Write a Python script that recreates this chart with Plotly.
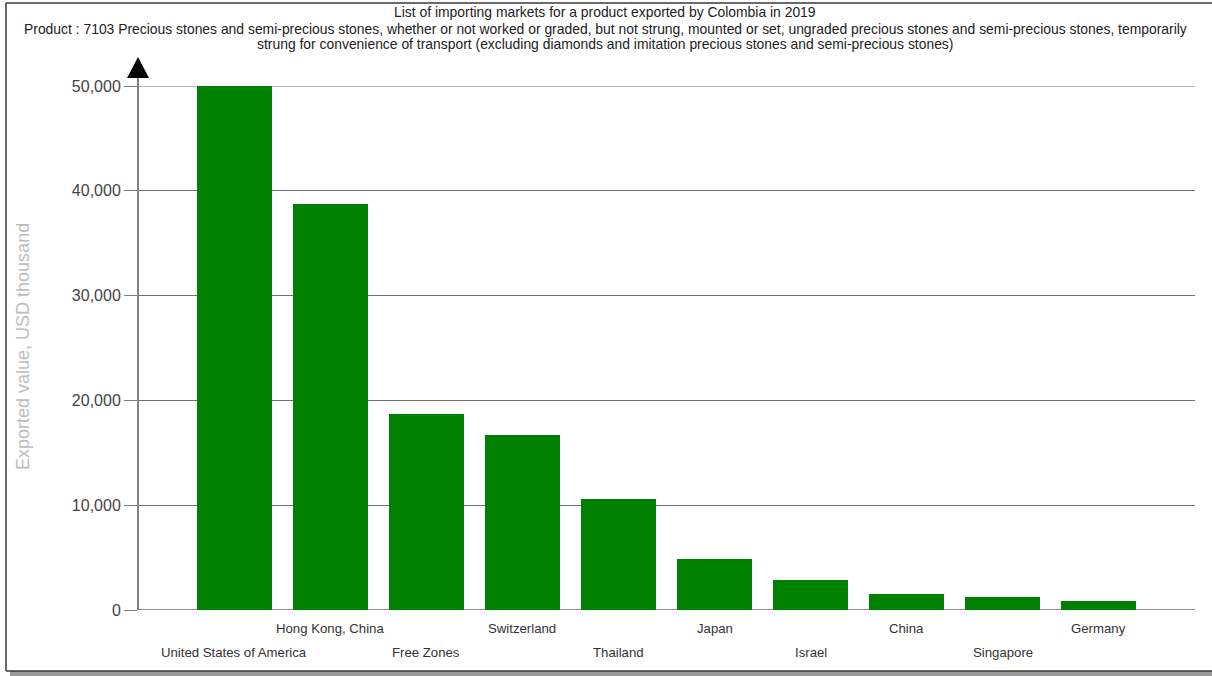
import plotly.graph_objects as go

# Importing markets and exported value (USD thousand), 2019
markets = [
    "United States of America", "Hong Kong, China", "Free Zones", "Switzerland",
    "Thailand", "Japan", "Israel", "China", "Singapore", "Germany",
]
exported_value = [50000, 38700, 18700, 16700, 10600, 4850, 2850, 1520, 1230, 860]

y_ticks = [0, 10000, 20000, 30000, 40000, 50000]
y_tick_labels = ["0", "10,000", "20,000", "30,000", "40,000", "50,000"]

title_lines = [
    "List of importing markets for a product exported by Colombia in 2019",
    "Product : 7103 Precious stones and semi-precious stones, whether or not worked or graded, "
    "but not strung, mounted or set, ungraded precious stones and semi-precious stones, temporarily",
    "strung for convenience of transport (excluding diamonds and imitation precious stones and semi-precious stones)",
]
y_title = "Exported value, USD thousand"

W, H = 1212, 676
ML, MR, MT, MB = 138, 17, 86, 66
PW, PH = W - ML - MR, H - MT - MB


def px_x(px):
    return (px - ML) / PW


def px_y(py):
    return (H - MB - py) / PH


FONT = "Liberation Sans, Arial, sans-serif"
GRID = "#6e6e6e"

fig = go.Figure(
    go.Bar(
        x=list(range(len(markets))),
        y=exported_value,
        width=0.78,
        marker=dict(color="#008000", line=dict(width=0)),
        hoverinfo="skip",
    )
)

annotations = []
# category labels, staggered on two rows
for i, name in enumerate(markets):
    annotations.append(dict(
        x=i, y=0, xref="x", yref="paper", yanchor="middle", xanchor="center",
        yshift=-18 if i % 2 else -42, text=name, showarrow=False,
        font=dict(family=FONT, size=13.2, color="#333333"),
    ))

# heading lines, centred on the page
for line, py in zip(title_lines, [12, 29, 44]):
    annotations.append(dict(
        x=px_x(W / 2 - 1), xref="paper", y=px_y(py), yref="paper",
        xanchor="center", yanchor="middle",
        text=line, showarrow=False, font=dict(family=FONT, size=13.9, color="#222222"),
    ))

annotations.append(dict(
    x=px_x(23), y=px_y(347), xref="paper", yref="paper", xanchor="center", yanchor="middle",
    text=y_title, textangle=-90, showarrow=False,
    font=dict(family=FONT, size=18, color="#bdbdbd"),
))

shapes = [
    # gridlines at the ends of the value range
    dict(type="line", xref="paper", yref="y", x0=0, x1=1, y0=y_ticks[0], y1=y_ticks[0],
         line=dict(color=GRID, width=1.5), layer="below"),
    dict(type="line", xref="paper", yref="y", x0=0, x1=1, y0=y_ticks[-1], y1=y_ticks[-1],
         line=dict(color=GRID, width=1), layer="below"),
    # vertical value axis extended to the arrow head
    dict(type="line", xref="paper", yref="paper", x0=0, x1=0, y0=0, y1=px_y(76),
         line=dict(color="#808080", width=2), layer="above"),
    # arrow head
    dict(type="path", xref="paper", yref="paper",
         path=f"M {px_x(127)} {px_y(78)} L {px_x(149)} {px_y(78)} L {px_x(138)} {px_y(57)} Z",
         fillcolor="#000000", line=dict(width=0), layer="above"),
    # outer frame
    dict(type="rect", xref="paper", yref="paper", x0=px_x(10), x1=px_x(1230),
         y0=px_y(676), y1=px_y(671), fillcolor="#9a9a9a", line=dict(width=0), layer="below"),
    dict(type="line", xref="paper", yref="paper", x0=px_x(6), x1=px_x(1230),
         y0=px_y(3), y1=px_y(3), line=dict(color="#3a3a3a", width=1.5)),
    dict(type="line", xref="paper", yref="paper", x0=px_x(6), x1=px_x(6),
         y0=px_y(3), y1=px_y(671), line=dict(color="#3a3a3a", width=1.5)),
    dict(type="line", xref="paper", yref="paper", x0=px_x(6), x1=px_x(1230),
         y0=px_y(671), y1=px_y(671), line=dict(color="#3a3a3a", width=1.5)),
]

fig.update_layout(
    width=W, height=H,
    margin=dict(l=ML, r=MR, t=MT, b=MB, pad=0),
    paper_bgcolor="white", plot_bgcolor="white",
    showlegend=False,
    bargap=0,
    xaxis=dict(range=[-1, 10], showticklabels=False, showgrid=False, zeroline=False,
               ticks="", showline=False, fixedrange=True),
    yaxis=dict(range=[0, 50000], tickvals=y_ticks, ticktext=y_tick_labels,
               ticks="outside", ticklen=13, tickcolor="#808080", tickwidth=1,
               tickfont=dict(family=FONT, size=16, color="#444444"),
               showgrid=True, gridcolor=GRID, gridwidth=1,
               zeroline=False, showline=False, fixedrange=True),
    annotations=annotations,
    shapes=shapes,
)

fig.write_html("out.html")
